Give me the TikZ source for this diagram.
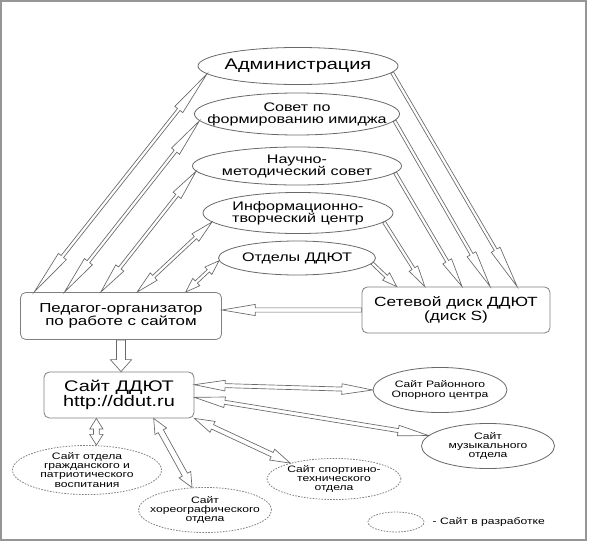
\documentclass[tikz,border=0pt]{standalone}
\usepackage{fontspec}
\setmainfont{Liberation Sans}[FakeStretch=1.3]
\usetikzlibrary{shapes.geometric,calc,positioning}

\definecolor{linegray}{RGB}{105,105,105}
\definecolor{framegray}{RGB}{150,150,150}

\tikzset{
  sw/.store in=\arrsw, sw=1.2pt,
  hw/.store in=\arrhw, hw=3.8pt,
  hl/.store in=\arrhl, hl=20pt,
  ell/.style={ellipse, draw=linegray, fill=white, line width=0.6pt, inner xsep=-15pt, inner ysep=-2pt, align=center, font=\fontsize{9.3}{9}\selectfont},
  dell/.style={ell, draw=gray, dash pattern=on 1.2pt off 1pt, font=\fontsize{7}{6.8}\selectfont},
  sell/.style={ell, font=\fontsize{7}{6.8}\selectfont},
  box/.style={rectangle, rounded corners=4pt, draw=gray, fill=white, line width=0.6pt, align=center},
  % single block arrow, head at the target
  barr/.style={draw=linegray, fill=white, line width=0.5pt, line join=miter, to path={
      ($(\tikztostart)!\arrsw!90:(\tikztotarget)$)
      -- ($(\tikztotarget)!\arrhl!(\tikztostart)!\arrsw!90:(\tikztotarget)$)
      -- ($(\tikztotarget)!\arrhl!(\tikztostart)!\arrhw!90:(\tikztotarget)$)
      -- (\tikztotarget)
      -- ($(\tikztotarget)!\arrhl!(\tikztostart)!\arrhw!-90:(\tikztotarget)$)
      -- ($(\tikztotarget)!\arrhl!(\tikztostart)!\arrsw!-90:(\tikztotarget)$)
      -- ($(\tikztostart)!\arrsw!-90:(\tikztotarget)$) -- cycle}},
  % double block arrow
  dbarr/.style={draw=linegray, fill=white, line width=0.5pt, line join=miter, to path={
      (\tikztostart)
      -- ($(\tikztostart)!\arrhl!(\tikztotarget)!\arrhw!90:(\tikztotarget)$)
      -- ($(\tikztostart)!\arrhl!(\tikztotarget)!\arrsw!90:(\tikztotarget)$)
      -- ($(\tikztotarget)!\arrhl!(\tikztostart)!\arrsw!90:(\tikztotarget)$)
      -- ($(\tikztotarget)!\arrhl!(\tikztostart)!\arrhw!90:(\tikztotarget)$)
      -- (\tikztotarget)
      -- ($(\tikztotarget)!\arrhl!(\tikztostart)!\arrhw!-90:(\tikztotarget)$)
      -- ($(\tikztotarget)!\arrhl!(\tikztostart)!\arrsw!-90:(\tikztotarget)$)
      -- ($(\tikztostart)!\arrhl!(\tikztotarget)!\arrsw!-90:(\tikztotarget)$)
      -- ($(\tikztostart)!\arrhl!(\tikztotarget)!\arrhw!-90:(\tikztotarget)$) -- cycle}},
}

\begin{document}
\begin{tikzpicture}[x=0.75pt,y=0.75pt,yscale=-1,xscale=1]
    \useasboundingbox (0,0) rectangle (589,542);
    \draw [framegray, line width=1.2pt] (1,1) rectangle (586,540);

    % Ellipses
    \node [ell, minimum width=150pt, minimum height=27.8pt, font=\fontsize{11.5}{12}\selectfont] (adm) at (298,66) {Администрация};
    \node [ell, minimum width=153.8pt, minimum height=31.5pt] (sovet) at (297,114) {Совет по\\формированию имиджа};
    \node [ell, minimum width=156.8pt, minimum height=28.5pt] (nauch) at (297,166) {Научно-\\методический совет};
    \node [ell, minimum width=142.5pt, minimum height=30.8pt] (inform) at (298,213) {Информационно-\\творческий центр};
    \node [ell, minimum width=117.8pt, minimum height=25.5pt] (otdel) at (297,258) {Отделы ДДЮТ};

    % Boxes
    \node [box, minimum width=150.8pt, minimum height=35.3pt, font=\fontsize{9.75}{9.3}\selectfont] (ped) at (121,316) {Педагог-организатор\\по работе с сайтом};
    \node [box, minimum width=141pt, minimum height=34.5pt, font=\fontsize{10}{10}\selectfont] (disk) at (456,310) {Сетевой диск ДДЮТ\\(диск S)};
    \node [box, minimum width=112.5pt, minimum height=34.5pt, font=\fontsize{11.5}{10.7}\selectfont] (site) at (119,395) {Сайт ДДЮТ\\http://ddut.ru};

    % Sites
    \node [sell, minimum width=100.5pt, minimum height=33.8pt] (rayon) at (440,390) {Сайт Районного\\Опорного центра};
    \node [sell, minimum width=99.8pt, minimum height=33.8pt] (muz) at (488,446) {Сайт\\музыкального\\отдела};
    \node [dell, minimum width=100.5pt, minimum height=30.8pt] (sport) at (334,479) {Сайт спортивно-\\технического\\отдела};
    \node [dell, minimum width=99.8pt, minimum height=33.8pt] (horeo) at (205,510) {Сайт\\хореографического\\отдела};
    \node [dell, minimum width=111.8pt, minimum height=36.8pt] (grazh) at (87,470) {Сайт отдела\\гражданского и\\патриотического\\воспитания};

    % Legend
    \node [dell, minimum width=42pt, minimum height=15pt] (lgd) at (396,522) {};
    \node [right=6pt of lgd, inner sep=0pt, font=\fontsize{7}{7}\selectfont] (lgdtext) {- Сайт в разработке};

    % Arrows
    \foreach \f [count=\i] in {0.07,0.22,0.40,0.58,0.82}
      \coordinate (pl\i) at ($(ped.north west)!\f!(ped.north east)$);
    \foreach \f [count=\i] in {0.186,0.335,0.532,0.681,0.824}
      \coordinate (pr\i) at ($(disk.north west)!\f!(disk.north east)$);
    \foreach \e/\a/\l [count=\i] in {adm/185/34pt, sovet/184/29pt, nauch/183/23pt, inform/186/17pt, otdel/182/11pt}
      \draw [dbarr, hl=\l] (pl\i) to (\e.\a);
    \foreach \e/\a/\l [count=\i] in {otdel/356/11pt, inform/354/16pt, nauch/356/22pt, sovet/356/28pt, adm/356/32pt}
      \draw [barr, hl=\l] (\e.\a) to (pr\i);
    \draw [barr, sw=1.6pt, hw=4.2pt, hl=25pt] (disk.west) to (disk.west -| ped.east);
    \draw [barr, sw=3.4pt, hw=8pt, hl=9pt] (ped.south) to (ped.south |- site.north);

    \coordinate (s1) at ($(site.north east)!0.28!(site.south east)$);
    \coordinate (s2) at ($(site.north east)!0.55!(site.south east)$);
    \coordinate (s3) at ($(site.south west)!0.35!(site.south east)$);
    \coordinate (s4) at ($(site.south west)!0.73!(site.south east)$);
    \draw [dbarr, sw=1.5pt, hw=4pt, hl=23pt] (s1) to (rayon.west);
    \draw [dbarr, sw=1.5pt, hw=4pt, hl=23pt] (s2) to (muz.170);
    \draw [dbarr, sw=1.8pt, hw=4.5pt, hl=15pt] (site.south east) to (sport.160);
    \draw [dbarr, sw=2.2pt, hw=5pt, hl=11pt] (s4) to (horeo.120);
    \draw [dbarr, sw=2.2pt, hw=5pt, hl=8pt] (s3) to (s3 |- grazh.north);

\end{tikzpicture}
\end{document}
